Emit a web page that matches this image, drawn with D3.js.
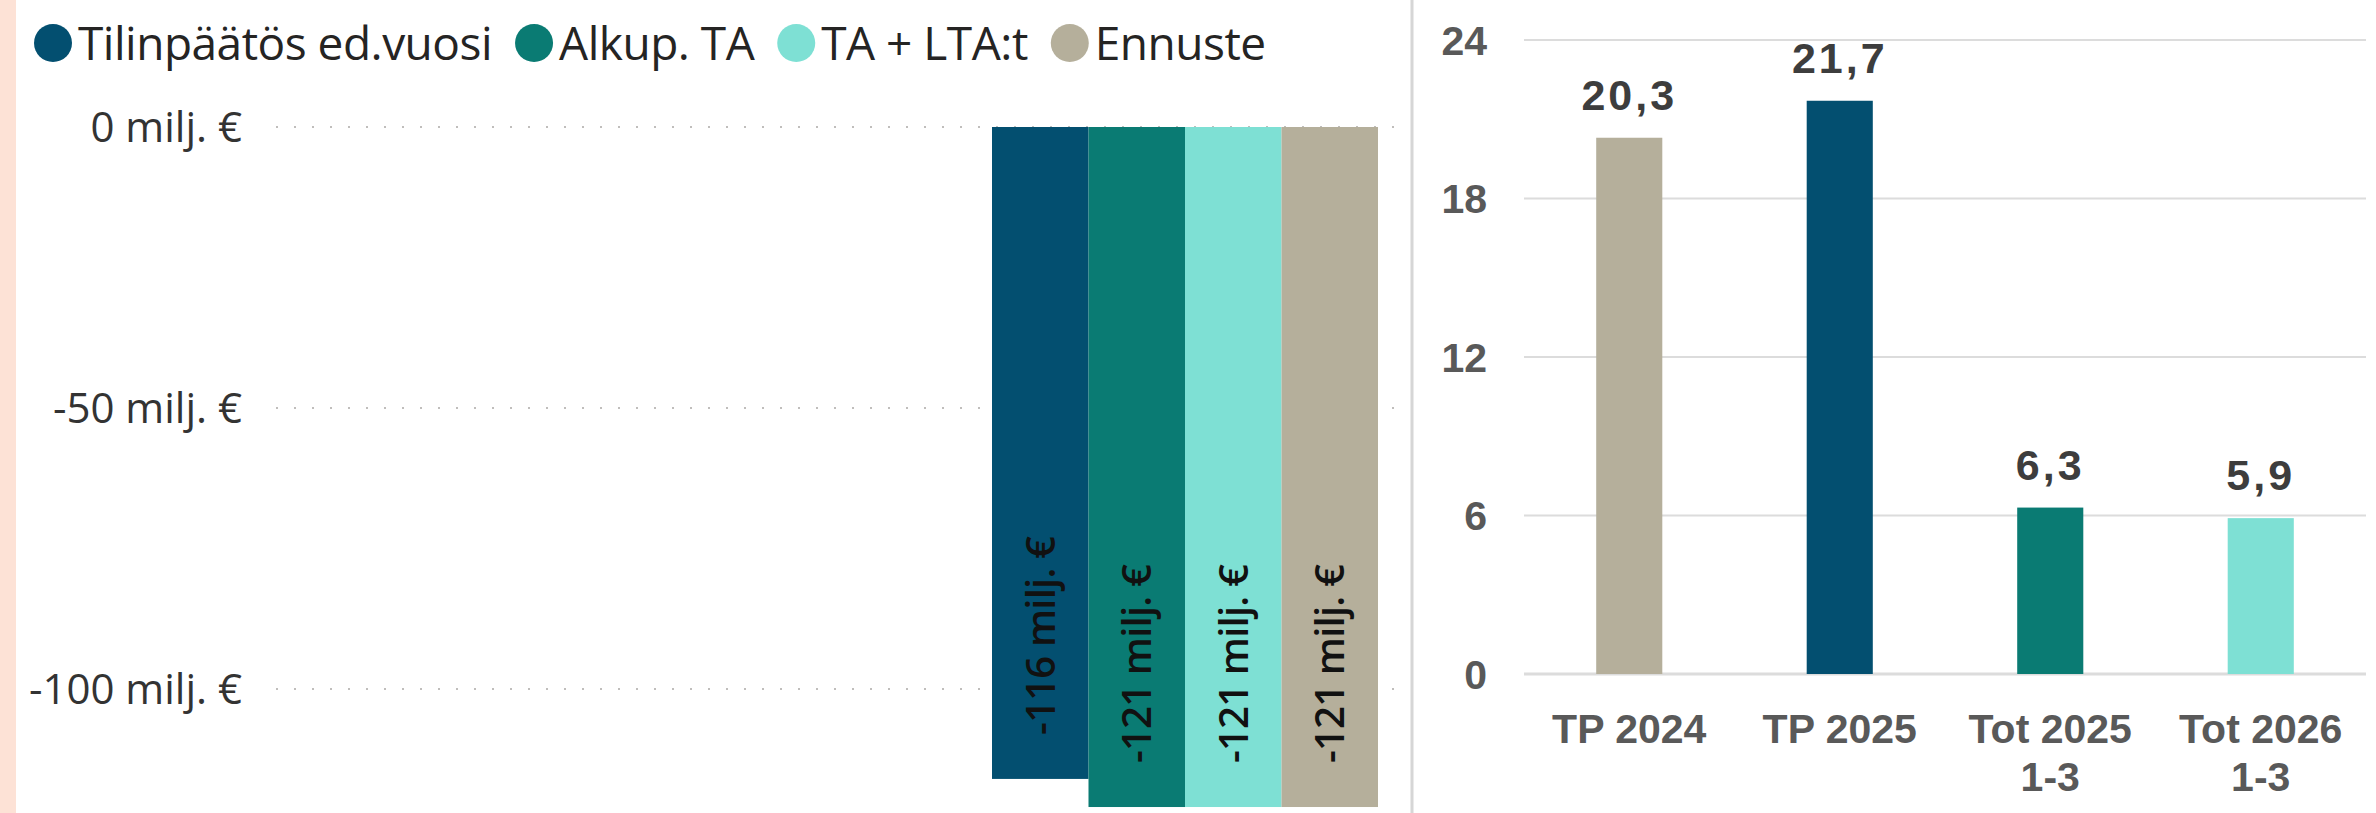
<!DOCTYPE html>
<html>
<head>
<meta charset="utf-8">
<script src="https://cdn.jsdelivr.net/npm/d3@7"></script>
<style>
  body { margin: 0; background: #fff; }
  svg { display: block; }
</style>
</head>
<body>
<svg id="chart" width="2376" height="813"></svg>
<script>
// left chart data
const seriesNames = ['Tilinpäätös ed.vuosi', 'Alkup. TA', 'TA + LTA:t', 'Ennuste'];
const seriesValues = [-116, -121, -121, -121];
const leftTicks = [0, -50, -100];

// right chart data
const categories = [['TP 2024'], ['TP 2025'], ['Tot 2025', '1-3'], ['Tot 2026', '1-3']];
const catValues = [20.3, 21.7, 6.3, 5.9];
const rightTicks = [0, 6, 12, 18, 24];

const colors = ['#034f70', '#0a7b73', '#7ee0d4', '#b5af9b'];
const catColors = ['#b5af9b', '#034f70', '#0a7b73', '#7ee0d4'];

const width = 2376;
const height = 813;
const fmt = (v) => String(v).replace('.', ',');

const svg = d3.select('#chart');

svg.append('rect').attr('width', width).attr('height', height).attr('fill', '#fff');

// pink strip on the left edge
svg.append('rect')
  .attr('x', 0).attr('y', 0)
  .attr('width', 16).attr('height', height)
  .attr('fill', '#fde2d6');

// ---------- left chart ----------
const yL = d3.scaleLinear().domain([-100, 0]).range([689, 127]);
const xL = d3.scaleBand().domain(seriesNames).range([992, 1378]).padding(0);

const left = svg.append('g');

// dotted gridlines
left.selectAll('.grid-l')
  .data(leftTicks)
  .enter()
  .append('line')
  .attr('class', 'grid-l')
  .attr('x1', 276).attr('x2', 1394)
  .attr('y1', (d) => yL(d)).attr('y2', (d) => yL(d))
  .attr('stroke', '#c0bebc')
  .attr('stroke-width', 2)
  .attr('stroke-dasharray', '2 16');

left.selectAll('.tick-l')
  .data(leftTicks)
  .enter()
  .append('text')
  .attr('class', 'tick-l')
  .attr('x', 242)
  .attr('y', (d) => yL(d))
  .attr('dy', '0.36em')
  .attr('text-anchor', 'end')
  .attr('font-family', 'Open Sans')
  .attr('font-size', 42)
  .attr('fill', '#333')
  .text((d) => `${d} milj. €`);

left.selectAll('.bar-l')
  .data(seriesValues)
  .enter()
  .append('rect')
  .attr('class', 'bar-l')
  .attr('x', (d, i) => xL(seriesNames[i]))
  .attr('y', yL(0))
  .attr('width', xL.bandwidth())
  .attr('height', (d) => yL(d) - yL(0))
  .attr('fill', (d, i) => colors[i]);

// rotated labels at the bar ends
left.selectAll('.label-l')
  .data(seriesValues)
  .enter()
  .append('text')
  .attr('class', 'label-l')
  .attr('transform', (d, i) =>
    `translate(${xL(seriesNames[i]) + xL.bandwidth() / 2}, ${yL(d) - 44}) rotate(-90)`)
  .attr('dy', '0.36em')
  .attr('font-family', 'Open Sans')
  .attr('font-weight', 600)
  .attr('font-size', 40)
  .attr('letter-spacing', -0.8)
  .attr('fill', '#111')
  .text((d) => `${d} milj. €`);

// legend
const legend = svg.append('g');
let lx = 53;
seriesNames.forEach((name, i) => {
  legend.append('circle')
    .attr('cx', lx).attr('cy', 43).attr('r', 19)
    .attr('fill', colors[i]);
  const t = legend.append('text')
    .attr('x', lx + 25)
    .attr('y', 60)
    .attr('font-family', 'Open Sans')
    .attr('font-size', 46)
    .attr('letter-spacing', -0.5)
    .attr('fill', '#252423')
    .text(name);
  lx += 25 + t.node().getComputedTextLength() + 42;
});

// divider between the two charts
svg.append('line')
  .attr('x1', 1412).attr('x2', 1412)
  .attr('y1', 0).attr('y2', height)
  .attr('stroke', '#d6d6d6')
  .attr('stroke-width', 3);

// ---------- right chart ----------
const yR = d3.scaleLinear().domain([0, 24]).range([674, 40]);
const xR = d3.scaleBand()
  .domain(categories.map((c) => c.join(' ')))
  .range([1524, 2366])
  .paddingInner(0.686)
  .paddingOuter(0.343);

const right = svg.append('g');

right.selectAll('.grid-r')
  .data(rightTicks)
  .enter()
  .append('line')
  .attr('class', 'grid-r')
  .attr('x1', 1524).attr('x2', 2366)
  .attr('y1', (d) => yR(d)).attr('y2', (d) => yR(d))
  .attr('stroke', '#dcdcdc')
  .attr('stroke-width', (d) => (d === 0 ? 3 : 2));

right.selectAll('.tick-r')
  .data(rightTicks)
  .enter()
  .append('text')
  .attr('class', 'tick-r')
  .attr('x', 1487)
  .attr('y', (d) => yR(d))
  .attr('dy', '0.36em')
  .attr('text-anchor', 'end')
  .attr('font-family', 'Liberation Sans')
  .attr('font-weight', 'bold')
  .attr('font-size', 41)
  .attr('fill', '#595959')
  .text((d) => d);

right.selectAll('.bar-r')
  .data(catValues)
  .enter()
  .append('rect')
  .attr('class', 'bar-r')
  .attr('x', (d, i) => xR(categories[i].join(' ')))
  .attr('y', (d) => yR(d))
  .attr('width', xR.bandwidth())
  .attr('height', (d) => yR(0) - yR(d))
  .attr('fill', (d, i) => catColors[i]);

right.selectAll('.value-r')
  .data(catValues)
  .enter()
  .append('text')
  .attr('class', 'value-r')
  .attr('x', (d, i) => xR(categories[i].join(' ')) + xR.bandwidth() / 2)
  .attr('y', (d) => yR(d) - 28)
  .attr('text-anchor', 'middle')
  .attr('font-family', 'Liberation Sans')
  .attr('font-weight', 'bold')
  .attr('font-size', 43)
  .attr('letter-spacing', 3)
  .attr('fill', '#3d3d3d')
  .text((d) => fmt(d));

// category labels, some on two lines
const catLabels = right.selectAll('.cat-r')
  .data(categories)
  .enter()
  .append('text')
  .attr('class', 'cat-r')
  .attr('text-anchor', 'middle')
  .attr('font-family', 'Liberation Sans')
  .attr('font-weight', 'bold')
  .attr('font-size', 41)
  .attr('fill', '#595959');

catLabels.selectAll('tspan')
  .data((d) => d.map((line) => ({ line, key: d.join(' ') })))
  .enter()
  .append('tspan')
  .attr('x', (d) => xR(d.key) + xR.bandwidth() / 2)
  .attr('y', (d, i) => 743 + i * 48)
  .text((d) => d.line);
</script>
</body>
</html>
